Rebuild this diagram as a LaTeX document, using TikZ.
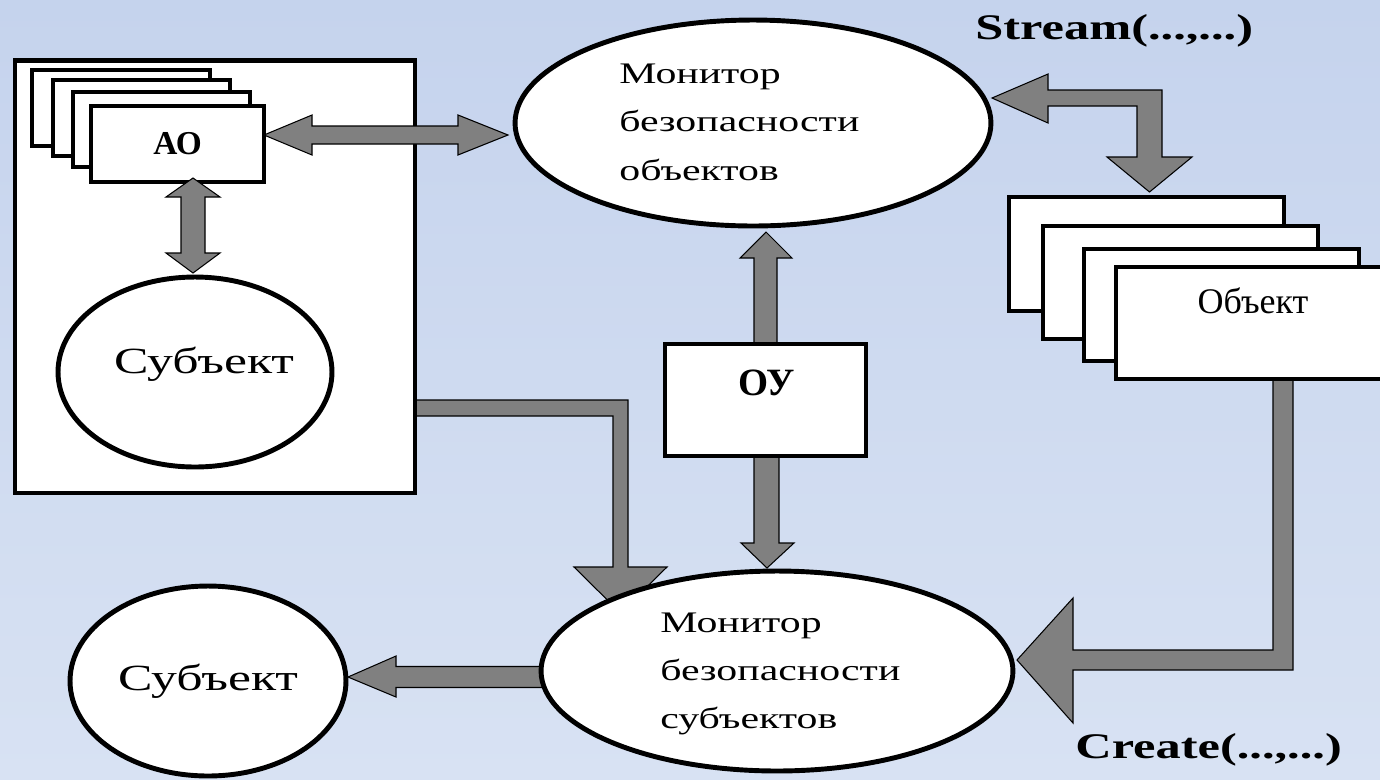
\documentclass[tikz,border=0pt]{standalone}
\usepackage{fontspec}
\setmainfont{Liberation Serif}
\newfontfamily\widefont[FakeStretch=1.4]{Liberation Serif}
\usepackage{tikz}
\usetikzlibrary{shapes.geometric, positioning, backgrounds}

\definecolor{bgtop}{RGB}{197,211,237}
\definecolor{bgbottom}{RGB}{216,226,243}
\definecolor{arrowgray}{RGB}{128,128,128}

\begin{document}
\begin{tikzpicture}[
                x=0.02cm, y=-0.02cm,
                box/.style={draw, fill=white, line width=2.6pt, inner sep=0pt},
                oval/.style={draw, ellipse, fill=white, line width=2.8pt, inner sep=0pt},
                blockarrow/.style={draw, fill=arrowgray, line width=0.6pt, line join=miter},
                word/.style={inner sep=0pt, anchor=base, font=\widefont\fontsize{21}{25}\selectfont},
                mline/.style={inner sep=0pt, anchor=base west, font=\widefont\fontsize{17}{20}\selectfont},
                call/.style={inner sep=0pt, anchor=base west, font=\widefont\bfseries\fontsize{20.5}{24}\selectfont}]

            % Субъект с АО
            \node[box, line width=2.8pt, minimum width=8cm, minimum height=8.66cm] (subjbox) at (215,276.5) {};
            \draw[box] (32,70) rectangle (210,146);
            \draw[box] (53,80) rectangle (230,156);
            \draw[box] (73,92) rectangle (250,167);
            \node[box, minimum width=3.46cm, minimum height=1.52cm, font=\bfseries\fontsize{19}{22}\selectfont] (ao) at (177.5,144) {АО};
            \node[oval, minimum width=5.48cm, minimum height=3.8cm] (subjin) at (195,372) {};
            \node[word] (subjintext) at (204,373) {Субъект};
            \draw[blockarrow] (264,135) -- (312,115) -- (312,126) -- (458,126) -- (458,115) -- (508,135)
                -- (458,155) -- (458,144) -- (312,144) -- (312,155) -- cycle;
            \draw[blockarrow] (193,178) -- (220,197) -- (205,197) -- (205,253) -- (220,253) -- (193,273)
                -- (166,253) -- (181,253) -- (181,197) -- (166,197) -- cycle;

            % мониторы
            \node[oval, minimum width=9.52cm, minimum height=4.12cm] (mobj) at (753,123) {};
            \foreach \t [count=\i] in {Монитор, безопасности, объектов}
                \node[mline] (mobj\i) at (619,34.5+48.5*\i) {\t};
            \node[oval, minimum width=9.44cm, minimum height=4cm] (msubj) at (777,671) {};
            \foreach \t [count=\i] in {Монитор, безопасности, субъектов}
                \node[mline] (msubj\i) at (660,584+48*\i) {\t};

            % ОУ
            \node[box, minimum width=4.02cm, minimum height=2.24cm] (ou) at (765.5,400) {};
            \node[inner sep=0pt, anchor=base, font=\bfseries\fontsize{22}{26}\selectfont] (outext) at (767,395) {ОУ};

            % объекты
            \draw[box] (1009,197) rectangle (1284,311);
            \draw[box] (1043,226) rectangle (1318,339);
            \draw[box] (1084,249) rectangle (1359,361);
            \node[box, minimum width=5.68cm, minimum height=2.24cm] (obj) at (1258,323) {};
            \node[inner sep=0pt, anchor=base, font=\fontsize{20.5}{24}\selectfont] (objtext) at (1253,313) {Объект};

            % субъект внизу
            \node[oval, minimum width=5.52cm, minimum height=3.8cm] (subj) at (208,681) {};
            \node[word] (subjtext) at (208,690) {Субъект};

            % вызовы
            \node[call] (stream) at (975,39) {Stream(...,...)};
            \node[call] (create) at (1075,758) {Create(...,...)};

            % стрелки
            \begin{scope}[on background layer]
                \shade[top color=bgtop, bottom color=bgbottom] (0,0) rectangle (1380,779);
                \draw[blockarrow] (766,232) -- (792,258) -- (777,258) -- (777,344) -- (754,344) -- (754,258)
                    -- (740,258) -- cycle;
                \draw[blockarrow] (754,456) -- (779,456) -- (779,543) -- (794,543) -- (767,568) -- (741,543)
                    -- (754,543) -- cycle;
                \draw[blockarrow] (415,400) -- (628,400) -- (628,567) -- (667,567) -- (620.5,613) -- (574,567)
                    -- (613,567) -- (613,416) -- (415,416) -- cycle;
                \draw[blockarrow] (992,98) -- (1048,74) -- (1048,90) -- (1162,90) -- (1162,157) -- (1192,157)
                    -- (1149.5,192) -- (1107,157) -- (1137,157) -- (1137,106) -- (1048,106) -- (1048,123) -- cycle;
                \draw[blockarrow] (1273,379) -- (1293,379) -- (1293,670) -- (1073,670) -- (1073,723) -- (1017,660)
                    -- (1073,598) -- (1073,650) -- (1273,650) -- cycle;
                \draw[blockarrow] (348,677) -- (396,656) -- (396,666.5) -- (545,666.5) -- (545,687.5) -- (396,687.5)
                    -- (396,697) -- cycle;
            \end{scope}

            \pgfresetboundingbox
            \useasboundingbox (0,0) rectangle (1380,779);

        \end{tikzpicture}
\end{document}
